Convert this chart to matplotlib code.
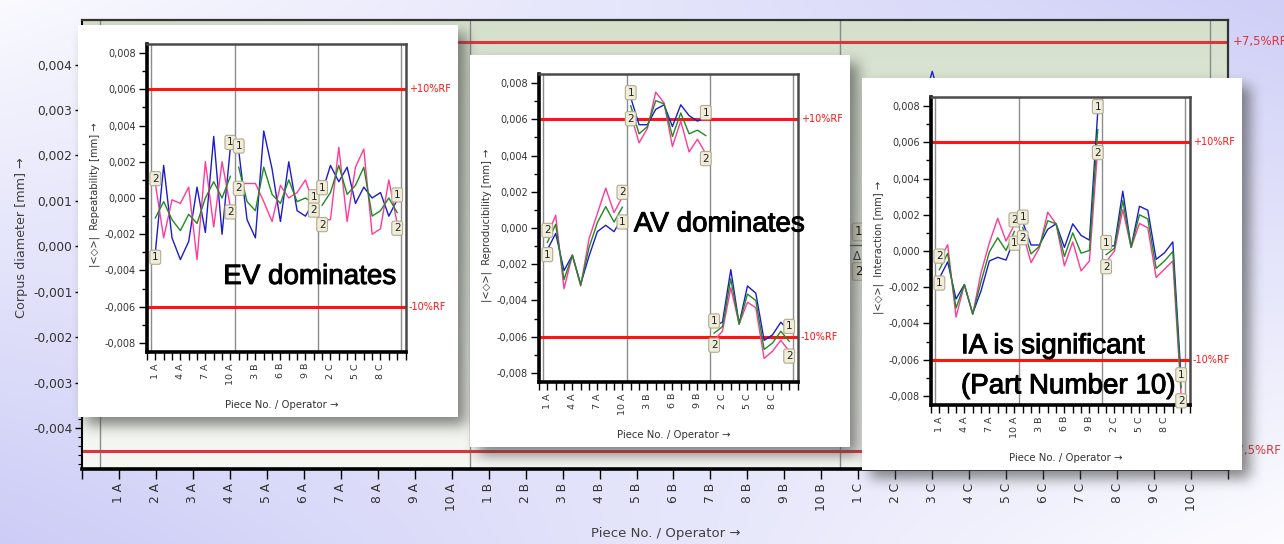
import numpy as np
import matplotlib
matplotlib.use("Agg")
import matplotlib.pyplot as plt
import matplotlib.patheffects as pe
from matplotlib.ticker import FixedLocator, MultipleLocator, FuncFormatter

# ---------------- data ----------------
pieces = list(range(1, 11))
operators = ["A", "B", "C"]
piece_labels = [f"{p} {op}" for op in operators for p in pieces]

# main chart: trial 1 around part 3 of operator C
main_trial1_parts = ["2 C", "3 C", "4 C"]
main_trial1_values = [0.0010, 0.00385, 0.0009]
main_yticks = [-0.004, -0.003, -0.002, -0.001, 0.0, 0.001, 0.002, 0.003, 0.004]

rf_main = 0.0045     # 7.5 % of RF
rf_inset = 0.006     # 10 % of RF

# Repeatability (EV)
ev_trial1 = [-0.0030, 0.0018, -0.0022, -0.0034, -0.0024, 0.0006, -0.0019, 0.0034, -0.0020, 0.0028,
             0.0026, -0.0012, -0.0022, 0.0037, 0.0016, -0.0013, 0.0020, -0.0007, -0.0010, -0.0002,
             0.0003, 0.0018, 0.0009, 0.0017, -0.0003, 0.0006, 0.0000, 0.0003, -0.0010, -0.0001]
ev_trial2 = [0.0008, -0.0022, -0.0001, -0.0003, 0.0006, -0.0034, 0.0020, -0.0016, 0.0020, -0.0005,
             0.0008, 0.0008, 0.0008, -0.0002, -0.0013, 0.0007, 0.0000, 0.0003, 0.0010, -0.0004,
             -0.0012, -0.0012, 0.0028, -0.0013, 0.0017, 0.0027, -0.0020, -0.0017, 0.0010, -0.0014]
ev_mean = [-0.0011, -0.0002, -0.0012, -0.0018, -0.0009, -0.0014, 0.0000, 0.0009, 0.0000, 0.0012,
           0.0017, -0.0002, -0.0007, 0.0017, 0.0002, -0.0003, 0.0010, -0.0002, 0.0000, -0.0003,
           -0.0004, 0.0003, 0.0018, 0.0002, 0.0007, 0.0017, -0.0010, -0.0007, 0.0000, -0.0008]

# Reproducibility (AV)
av_trial1 = [-0.0012, -0.0003, -0.00235, -0.0015, -0.0031, -0.00155, -0.0002, 0.00015, -0.0002, 0.0006,
             0.0072, 0.0057, 0.0057, 0.00655, 0.0068, 0.0056, 0.0068, 0.0062, 0.0059, 0.0061,
             -0.0054, -0.0052, -0.0023, -0.0053, -0.0032, -0.0036, -0.0062, -0.0059, -0.0052, -0.0057]
av_trial2 = [-0.0004, 0.0007, -0.00335, -0.0015, -0.0032, -0.0006, 0.0008, 0.0022, 0.00085, 0.0017,
             0.0063, 0.0047, 0.0055, 0.0075, 0.0069, 0.0045, 0.0059, 0.0042, 0.0049, 0.0041,
             -0.0062, -0.0057, -0.0033, -0.0053, -0.0041, -0.0044, -0.0072, -0.0068, -0.0062, -0.0068]
av_mean = [-0.0008, 0.0002, -0.00285, -0.0015, -0.00315, -0.00108, 0.0003, 0.00118, 0.00033, 0.00115,
           0.00675, 0.0052, 0.0056, 0.00703, 0.00685, 0.00505, 0.00635, 0.0052, 0.0054, 0.0051,
           -0.0058, -0.00545, -0.0028, -0.0053, -0.00365, -0.0040, -0.0067, -0.00635, -0.0057, -0.00625]

# Interaction (IA)
ia_trial1 = [-0.0015, -0.0006, -0.00265, -0.00185, -0.00345, -0.0022, -0.00055, -0.00035, -0.0005, 0.0007,
             0.0016, 0.00033, 0.00033, 0.0012, 0.0015, 0.0002, 0.0015, 0.00086, 0.0006, 0.0077,
             0.0002, 0.0003, 0.0033, 0.0002, 0.00247, 0.00225, -0.00046, -0.0001, 0.0005, -0.0071]
ia_trial2 = [-0.00055, 0.00035, -0.00365, -0.00185, -0.0035, -0.0012, 0.00045, 0.0018, 0.00055, 0.00145,
             0.0010, -0.00064, 0.00018, 0.00214, 0.0015, -0.00082, 0.0005, -0.0011, -0.00055, 0.0057,
             -0.0006, 0.0000, 0.00228, 0.0002, 0.00152, 0.00128, -0.00146, -0.0010, -0.00055, -0.0080]
ia_mean = [-0.00103, -0.00013, -0.00315, -0.00185, -0.00348, -0.0017, -0.00005, 0.00073, 0.00003, 0.00108,
           0.0013, -0.00016, 0.00026, 0.00167, 0.0015, -0.0003, 0.0010, -0.00012, 0.00003, 0.0067,
           -0.0002, 0.00015, 0.00278, 0.0002, 0.0020, 0.00177, -0.00096, -0.00055, -0.00003, -0.00755]

# ---------------- styling ----------------
C_T1 = "#1c1ccc"
C_T2 = "#ff3b98"
C_MEAN = "#1f8a1f"
C_RF = "#ff1414"
C_RF_MAIN = "#d8383c"
TXT = "#333333"
BIG_FONT = "Liberation Sans"

W, H = 1284, 544
fig = plt.figure(figsize=(W / 100, H / 100), dpi=100)


def px_axes(l, t, r, b, **kw):
    return fig.add_axes([l / W, 1 - b / H, (r - l) / W, (b - t) / H], **kw)


def comma_fmt(v, pos=None):
    if abs(v) < 1e-12:
        v = 0.0
    return f"{v:.3f}".replace(".", ",")


# ---------------- backdrop ----------------
u = np.linspace(0, 1, W)[None, :]
v = np.linspace(0, 1, H)[:, None]
wgt = (1 - u) * (1 - v) * 0.05 + u * (1 - v) * 0.85 + (1 - u) * v * 0.9 + u * v * 0.0
lav = np.array([0.78, 0.78, 0.965])
backdrop = (1 - wgt[..., None]) * np.array([0.99, 0.99, 1.0]) + wgt[..., None] * lav
bg = fig.add_axes([0, 0, 1, 1], zorder=0)
bg.imshow(backdrop, extent=(0, W, H, 0), aspect="auto", interpolation="bilinear")
bg.set_xlim(0, W)
bg.set_ylim(H, 0)
bg.axis("off")

# ---------------- main chart ----------------
n = len(piece_labels)
main_ylim = (-0.0049, 0.00498)
ax = px_axes(82, 20, 1228, 469, zorder=1)
grad_top = np.array([0.835, 0.878, 0.800])
grad_bot = np.array([0.965, 0.970, 0.955])
t = np.linspace(0, 1, 200)[:, None, None]
ax.imshow(grad_top * (1 - t) + grad_bot * t, extent=(-1, n, main_ylim[0], main_ylim[1]),
          aspect="auto", zorder=0, interpolation="bilinear")
ax.set_xlim(-1, n)
ax.set_ylim(*main_ylim)

for xb in (-0.5, 9.5, 19.5, 29.5):
    ax.axvline(xb, color="#8a8a8a", lw=1.0, zorder=1)
for sgn in (1, -1):
    ax.axhline(sgn * rf_main, color=C_RF_MAIN, lw=2.2, zorder=2)
ax.text(1.004, rf_main, "+7,5%RF", transform=ax.get_yaxis_transform(), color=C_RF_MAIN,
        fontsize=8.5, va="center", ha="left", clip_on=False)
ax.text(1.004, -rf_main, "-7,5%RF", transform=ax.get_yaxis_transform(), color=C_RF_MAIN,
        fontsize=8.5, va="center", ha="left", clip_on=False)

main_x = [piece_labels.index(p) for p in main_trial1_parts]
ax.plot(main_x, main_trial1_values, color=C_T1, lw=1.0, zorder=3)

# deviation legend of the main chart
lab_box = dict(boxstyle="round,pad=0.2", fc="#e6e4d2", ec="#b5ae94", lw=0.8)
ax.text(0.6775, 0.528, "1", transform=ax.transAxes, fontsize=8.5, ha="center", va="center",
        bbox=lab_box, zorder=4)
ax.plot([0.67, 0.69], [0.499, 0.499], transform=ax.transAxes, color="#555555", lw=1.0, zorder=4)
ax.text(0.6765, 0.474, "Δ", transform=ax.transAxes, fontsize=8.5, ha="center", va="center",
        color="#333333", zorder=4)
ax.text(0.6775, 0.440, "2", transform=ax.transAxes, fontsize=8.5, ha="center", va="center",
        bbox=lab_box, zorder=4)

ax.xaxis.set_major_locator(FixedLocator(range(n)))
ax.xaxis.set_minor_locator(FixedLocator([-1, n]))
ax.set_xticklabels(piece_labels, rotation=90, fontsize=8.8, color=TXT)
ax.yaxis.set_major_locator(FixedLocator(main_yticks))
ax.yaxis.set_minor_locator(MultipleLocator(0.0002))
ax.yaxis.set_major_formatter(FuncFormatter(comma_fmt))
ax.tick_params(axis="y", which="major", length=5, width=1, labelsize=8.8, labelcolor=TXT, pad=2)
ax.tick_params(axis="y", which="minor", length=3, width=0.8)
ax.tick_params(axis="x", which="both", length=7, width=1, pad=3)
ax.set_ylabel("Corpus diameter [mm] →", fontsize=9.2, color="#404040")
ax.yaxis.set_label_coords(-0.047, 0.515)
ax.set_xlabel("Piece No. / Operator →", fontsize=9.5, color="#404040")
ax.xaxis.set_label_coords(0.509, -0.13)
ax.spines["left"].set_linewidth(1.5)
ax.spines["bottom"].set_linewidth(2.6)
ax.spines["top"].set_linewidth(1.6)
ax.spines["right"].set_linewidth(1.6)
ax.spines["top"].set_color("#333333")
ax.spines["right"].set_color("#333333")

# ---------------- inset panels ----------------
BOX_W, BOX_H = 380, 392
box_origins = [(78, 25), (470, 55), (862, 78)]

# drop shadows behind the panels
shadow = np.zeros((H, W))
for bl, bt in box_origins:
    shadow[min(H, bt + 8):min(H, bt + BOX_H + 8), min(W, bl + 8):min(W, bl + BOX_W + 8)] = 1.0


def box_blur(a, r):
    k = np.ones(2 * r + 1) / (2 * r + 1)
    a = np.apply_along_axis(lambda m: np.convolve(m, k, mode="same"), 0, a)
    return np.apply_along_axis(lambda m: np.convolve(m, k, mode="same"), 1, a)


for _ in range(3):
    shadow = box_blur(shadow, 6)
rgba = np.zeros((H, W, 4))
rgba[..., :3] = 0.28
rgba[..., 3] = 0.66 * shadow
sh = fig.add_axes([0, 0, 1, 1], zorder=2)
sh.imshow(rgba, extent=(0, W, H, 0), aspect="auto", interpolation="bilinear")
sh.set_xlim(0, W)
sh.set_ylim(H, 0)
sh.axis("off")
sh.patch.set_alpha(0)

label_box = dict(boxstyle="round,pad=0.2", fc="#efedda", ec="#b3ab8e", lw=0.8)
caption_effect = [pe.withStroke(linewidth=0.7, foreground="black")]


def draw_panel(origin, ylabel, trial1, trial2, mean, captions):
    bl, bt = origin
    box = px_axes(bl, bt, bl + BOX_W, bt + BOX_H, zorder=3)
    box.set_facecolor("white")
    box.set_xticks([])
    box.set_yticks([])
    for s in box.spines.values():
        s.set_visible(False)

    pa = px_axes(bl + 69, bt + 19, bl + 69 + 258.5, bt + 19 + 308, zorder=4)
    pa.set_facecolor("white")
    pa.set_xlim(-1, n)
    pa.set_ylim(-0.0085, 0.0085)
    for xb in (-0.5, 9.5, 19.5, 29.5):
        pa.axvline(xb, color="#8c8c8c", lw=1.0, zorder=1)
    for sgn, txt in ((1, "+10%RF"), (-1, "-10%RF")):
        pa.axhline(sgn * rf_inset, color=C_RF, lw=2.2, zorder=2)
        pa.text(1.012, sgn * rf_inset, txt, transform=pa.get_yaxis_transform(), color=C_RF,
                fontsize=7, va="center", ha="left", clip_on=False)

    for k in range(len(operators)):
        seg = slice(10 * k, 10 * k + 10)
        xs = list(range(10 * k, 10 * k + 10))
        pa.plot(xs, trial1[seg], color=C_T1, lw=1.0, zorder=3)
        pa.plot(xs, trial2[seg], color=C_T2, lw=1.0, zorder=3)
        pa.plot(xs, mean[seg], color=C_MEAN, lw=1.0, zorder=3)
        for i in (xs[0], xs[-1]):
            up1 = trial1[i] >= trial2[i]
            for lab, val, up in (("1", trial1[i], up1), ("2", trial2[i], not up1)):
                pa.annotate(lab, (i, val), xytext=(0, 3.5 if up else -3.5), textcoords="offset points",
                            ha="center", va="center", fontsize=7.5, color="#222222",
                            bbox=label_box, zorder=6, annotation_clip=False)

    for (tx, ty, txt) in captions:
        pa.text(tx, ty, txt, transform=pa.transAxes, fontsize=20, family=BIG_FONT,
                color="black", ha="left", va="baseline", zorder=7, path_effects=caption_effect)

    pa.xaxis.set_major_locator(FixedLocator(range(-1, n + 1)))
    pa.xaxis.set_major_formatter(FuncFormatter(
        lambda x, pos: piece_labels[int(round(x))] if 0 <= round(x) < n and int(round(x)) % 3 == 0 else ""))
    pa.tick_params(axis="x", which="major", length=6, width=1, labelsize=6.8, labelcolor=TXT,
                   pad=2, labelrotation=90)
    pa.yaxis.set_major_locator(MultipleLocator(0.002))
    pa.yaxis.set_minor_locator(MultipleLocator(0.001))
    pa.yaxis.set_major_formatter(FuncFormatter(comma_fmt))
    pa.tick_params(axis="y", which="major", length=6, width=1, labelsize=7, labelcolor=TXT, pad=2)
    pa.tick_params(axis="y", which="minor", length=3.5, width=1)
    pa.set_ylim(-0.0085, 0.0085)
    pa.set_ylabel(ylabel, fontsize=7.2, color="#333333")
    pa.yaxis.set_label_coords(-0.18, 0.51)
    pa.set_xlabel("Piece No. / Operator →", fontsize=7.3, color="#333333")
    pa.xaxis.set_label_coords(0.52, -0.155)
    pa.spines["left"].set_linewidth(2.6)
    pa.spines["bottom"].set_linewidth(2.6)
    for side in ("top", "right"):
        pa.spines[side].set_linewidth(1.8)
        pa.spines[side].set_color("#4a4a4a")
    return pa


draw_panel(box_origins[0], "|<◇>|  Repeatability [mm] →", ev_trial1, ev_trial2, ev_mean,
           [(0.295, 0.221, "EV dominates")])
draw_panel(box_origins[1], "|<◇>|  Reproducibility [mm] →", av_trial1, av_trial2, av_mean,
           [(0.367, 0.489, "AV dominates")])
draw_panel(box_origins[2], "|<◇>|  Interaction [mm] →", ia_trial1, ia_trial2, ia_mean,
           [(0.116, 0.168, "IA is significant"), (0.116, 0.038, "(Part Number 10)")])

fig.savefig("out.png", dpi=100)
